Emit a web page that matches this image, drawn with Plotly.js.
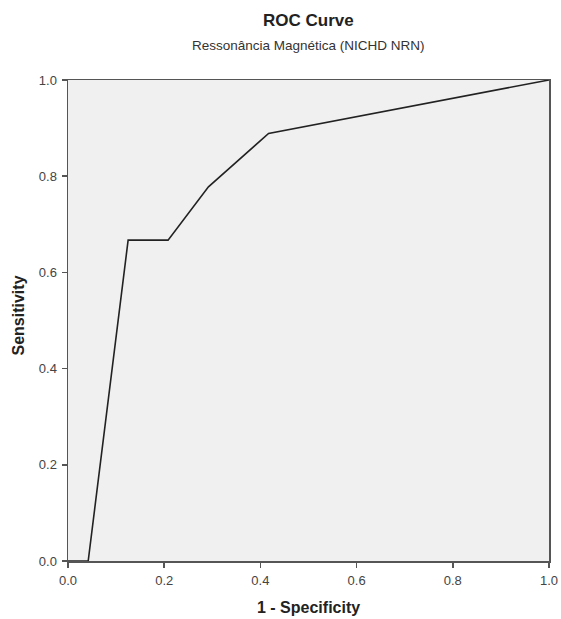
<!DOCTYPE html>
<html>
<head>
<meta charset="utf-8">
<script src="https://cdn.plot.ly/plotly-3.0.1.min.js"></script>
<style>html,body{margin:0;padding:0;background:#fff;}#chart{width:561px;height:619px;}</style>
</head>
<body>
<div id="chart"></div>
<script>
const oneMinusSpecificity = [0, 0.042, 0.125, 0.208, 0.292, 0.417, 1.0];
const sensitivity = [0, 0, 0.667, 0.667, 0.778, 0.889, 1.0];
const tickVals = [0, 0.2, 0.4, 0.6, 0.8, 1.0];
const tickText = ["0.0", "0.2", "0.4", "0.6", "0.8", "1.0"];

const trace = {
  x: oneMinusSpecificity, y: sensitivity, type: 'scatter', mode: 'lines',
  line: {color: '#222', width: 1.6}, hoverinfo: 'skip', showlegend: false
};
const fontBase = 'Arial, "Liberation Sans", sans-serif';
const axisCommon = {
  range: [0, 1], tickvals: tickVals, ticktext: tickText, ticks: 'outside', ticklen: 5,
  tickwidth: 1.5, tickcolor: '#555', showline: true, mirror: true, linecolor: '#555', linewidth: 1.5,
  showgrid: false, zeroline: false, fixedrange: true,
  tickfont: {family: fontBase, size: 13, color: '#444'}
};
const layout = {
  width: 561, height: 619,
  margin: {l: 68, r: 12, t: 80, b: 58},
  paper_bgcolor: '#fff', plot_bgcolor: '#f0f0f0',
  xaxis: Object.assign({}, axisCommon, {ticklabelstandoff: 2}),
  yaxis: Object.assign({}, axisCommon, {ticklabelstandoff: 2}),
  annotations: [
    {text: '<b>ROC Curve</b>', xref: 'paper', yref: 'paper', x: 0.5, y: 1, yshift: 60,
     showarrow: false, xanchor: 'center', yanchor: 'middle', font: {family: fontBase, size: 17, color: '#222'}},
    {text: 'Ressonância Magnética (NICHD NRN)', xref: 'paper', yref: 'paper', x: 0.5, y: 1, yshift: 35,
     showarrow: false, xanchor: 'center', yanchor: 'middle', font: {family: fontBase, size: 13.5, color: '#333'}},
    {text: '<b>1 - Specificity</b>', xref: 'paper', yref: 'paper', x: 0.5, y: 0, yshift: -46,
     showarrow: false, xanchor: 'center', yanchor: 'middle', font: {family: fontBase, size: 16, color: '#222'}},
    {text: '<b>Sensitivity</b>', xref: 'paper', yref: 'paper', x: 0, y: 0.5, xshift: -50, yshift: 5,
     textangle: -90, showarrow: false, xanchor: 'center', yanchor: 'middle', font: {family: fontBase, size: 16, color: '#222'}}
  ]
};
Plotly.newPlot('chart', [trace], layout, {displayModeBar: false, staticPlot: true});
</script>
</body>
</html>
